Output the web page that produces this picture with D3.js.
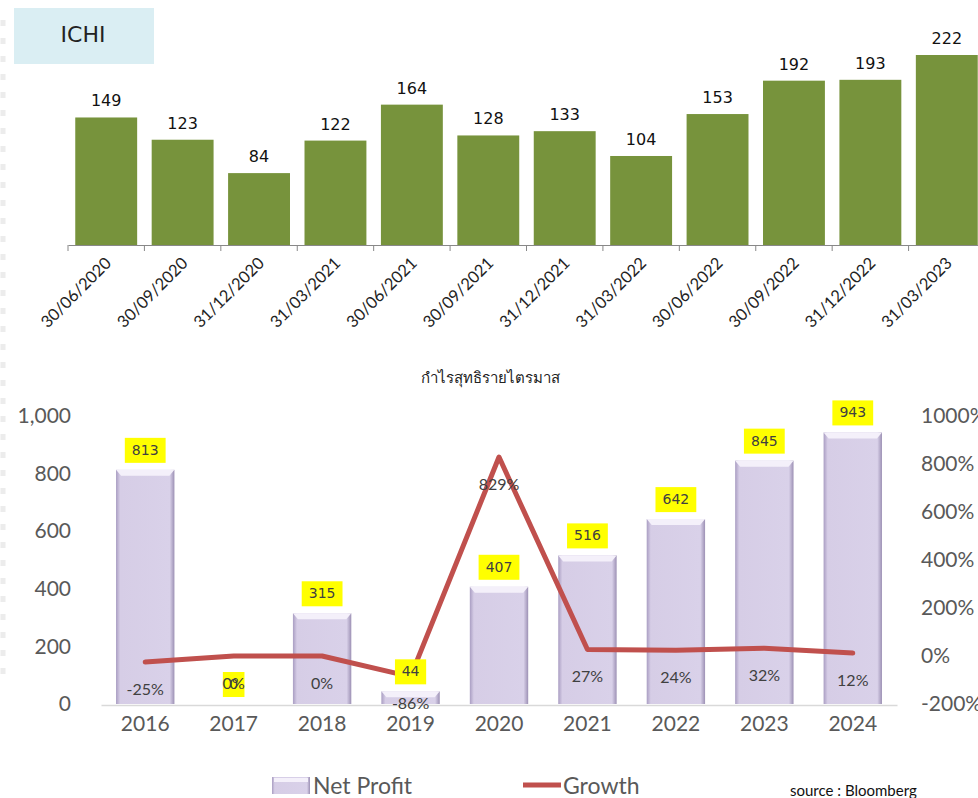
<!DOCTYPE html>
<html>
<head>
<meta charset="utf-8">
<script src="https://cdn.jsdelivr.net/npm/d3@7/dist/d3.min.js"></script>
<style>
  body { margin: 0; background: #fff; }
  svg { display: block; }
</style>
</head>
<body>
<svg id="chart" width="978" height="798"></svg>
<script>
// quarterly net profit (top chart)
const quarters = ["30/06/2020", "30/09/2020", "31/12/2020", "31/03/2021", "30/06/2021", "30/09/2021",
                  "31/12/2021", "31/03/2022", "30/06/2022", "30/09/2022", "31/12/2022", "31/03/2023"];
const quarterProfit = [149, 123, 84, 122, 164, 128, 133, 104, 153, 192, 193, 222];

// yearly net profit + growth (bottom chart)
const years = ["2016", "2017", "2018", "2019", "2020", "2021", "2022", "2023", "2024"];
const netProfit = [813, 0, 315, 44, 407, 516, 642, 845, 943];
const growth = [-25, 0, 0, -86, 829, 27, 24, 32, 12];
const leftTicks = [0, 200, 400, 600, 800, 1000];
const rightTicks = [-200, 0, 200, 400, 600, 800, 1000];

const svg = d3.select("#chart");
const defs = svg.append("defs");

// faint dotted edge like the original slide
svg.append("line").attr("x1", 3).attr("x2", 3).attr("y1", 20).attr("y2", 680)
  .attr("stroke", "#ececec").attr("stroke-width", 5).attr("stroke-dasharray", "6,12");

// ---------- top chart ----------
svg.append("rect").attr("x", 14).attr("y", 8).attr("width", 140).attr("height", 56).attr("fill", "#DAEEF3");
svg.append("text").attr("x", 83).attr("y", 42).attr("text-anchor", "middle")
  .style("font-family", "DejaVu Sans").style("font-size", "22px").attr("fill", "#222").text("ICHI");

const xTop = d3.scaleBand().domain(quarters).range([68, 985]).paddingInner(0.19).paddingOuter(0.095);
const yTop = d3.scaleLinear().domain([0, 222]).range([245, 55]);

svg.append("g").selectAll("rect").data(quarters).join("rect")
  .attr("x", d => xTop(d))
  .attr("y", (d, i) => yTop(quarterProfit[i]))
  .attr("width", xTop.bandwidth())
  .attr("height", (d, i) => yTop(0) - yTop(quarterProfit[i]))
  .attr("fill", "#77933C");

svg.append("g").selectAll("text").data(quarters).join("text")
  .attr("x", d => xTop(d) + xTop.bandwidth() / 2)
  .attr("y", (d, i) => yTop(quarterProfit[i]) - 11)
  .attr("text-anchor", "middle")
  .style("font-family", "DejaVu Sans").style("font-size", "16px").attr("fill", "#111")
  .text((d, i) => quarterProfit[i]);

const topAxis = svg.append("g").attr("transform", "translate(0,245)")
  .call(d3.axisBottom(xTop).tickSize(0).tickFormat(""));
topAxis.select(".domain").attr("stroke", "#888");
topAxis.selectAll(".tick").remove();
svg.append("g").selectAll("line").data(d3.range(quarters.length + 1)).join("line")
  .attr("x1", i => 68 + i * xTop.step()).attr("x2", i => 68 + i * xTop.step())
  .attr("y1", 245).attr("y2", 251).attr("stroke", "#888");

svg.append("g").selectAll("text").data(quarters).join("text")
  .attr("transform", d => `translate(${xTop(d) + xTop.bandwidth() / 2 - 2},256) rotate(-45)`)
  .attr("text-anchor", "end")
  .attr("dy", "0.7em")
  .style("font-family", "Lato").style("font-size", "16.5px").attr("fill", "#222")
  .text(d => d);

// ---------- bottom chart ----------
svg.append("text").attr("x", 490).attr("y", 383).attr("text-anchor", "middle")
  .style("font-family", "Noto Sans, sans-serif").style("font-size", "15px").attr("fill", "#222")
  .text("กำไรสุทธิรายไตรมาส");

const x = d3.scaleBand().domain(years).range([101, 897]).paddingInner(0.34).paddingOuter(0.17);
const yL = d3.scaleLinear().domain([0, 1000]).range([704, 416]);
const yR = d3.scaleLinear().domain([-200, 1000]).range([704, 416]);

const grad = defs.append("linearGradient").attr("id", "barGrad").attr("x1", 0).attr("x2", 1).attr("y1", 0).attr("y2", 0);
grad.append("stop").attr("offset", "0%").attr("stop-color", "#A99DC2");
grad.append("stop").attr("offset", "7%").attr("stop-color", "#D6CDE6");
grad.append("stop").attr("offset", "92%").attr("stop-color", "#D9D1E9");
grad.append("stop").attr("offset", "100%").attr("stop-color", "#9C90B4");

const bars = svg.append("g").selectAll("g").data(years).join("g");
bars.append("rect")
  .attr("x", d => x(d))
  .attr("y", (d, i) => yL(netProfit[i]))
  .attr("width", x.bandwidth())
  .attr("height", (d, i) => yL(0) - yL(netProfit[i]))
  .attr("fill", "url(#barGrad)");
// top bevel highlight
bars.append("path")
  .attr("d", (d, i) => {
    if (netProfit[i] <= 0) return null;
    const x0 = x(d), x1 = x(d) + x.bandwidth(), y0 = yL(netProfit[i]);
    return `M${x0},${y0} L${x1},${y0} L${x1 - 5},${y0 + 6} L${x0 + 5},${y0 + 6} Z`;
  })
  .attr("fill", "#F4F0FA");

// x axis
const xAxis = svg.append("g").attr("transform", "translate(0,705)").call(d3.axisBottom(x).tickSize(0));
xAxis.select(".domain").attr("stroke", "#d9d9d9").attr("stroke-width", 1.5);
xAxis.selectAll("text").attr("dy", "1.1em")
  .style("font-family", "Lato").style("font-size", "21px").attr("fill", "#595959");

const leftAxis = svg.append("g").attr("transform", "translate(74,0)")
  .call(d3.axisLeft(yL).tickValues(leftTicks).tickSize(0).tickFormat(d3.format(",")));
leftAxis.select(".domain").remove();
leftAxis.selectAll("text").style("font-family", "Lato").style("font-size", "21px").attr("fill", "#595959");

const rightAxis = svg.append("g").attr("transform", "translate(918,0)")
  .call(d3.axisRight(yR).tickValues(rightTicks).tickSize(0).tickFormat(d => d + "%"));
rightAxis.select(".domain").remove();
rightAxis.selectAll("text").style("font-family", "Lato").style("font-size", "21px").attr("fill", "#595959");

// growth line
const line = d3.line().x((d, i) => x(years[i]) + x.bandwidth() / 2).y(d => yR(d));
svg.append("path").datum(growth).attr("d", line)
  .attr("fill", "none").attr("stroke", "#C0504D").attr("stroke-width", 5)
  .attr("stroke-linejoin", "round").attr("stroke-linecap", "round");

// net profit labels in yellow boxes
const vl = svg.append("g").selectAll("g").data(netProfit).join("g")
  .attr("transform", (d, i) => `translate(${x(years[i]) + x.bandwidth() / 2},${yL(d) - 20})`);
vl.append("rect")
  .attr("x", d => -(String(d).length * 4.8 + 6))
  .attr("width", d => String(d).length * 9.6 + 12)
  .attr("y", -12).attr("height", 25).attr("fill", "#FFFF00");
vl.append("text").attr("text-anchor", "middle").attr("dy", "0.36em")
  .style("font-family", "DejaVu Sans").style("font-size", "14px").attr("fill", "#404040")
  .text(d => d);

// growth labels (drawn on top, as in the original)
svg.append("g").selectAll("text").data(growth).join("text")
  .attr("x", (d, i) => x(years[i]) + x.bandwidth() / 2)
  .attr("y", d => yR(d) + 27)
  .attr("dy", "0.35em")
  .attr("text-anchor", "middle")
  .style("font-family", "Lato").style("font-size", "16px").attr("fill", "#404040")
  .text(d => d + "%");

// legend
const lg = svg.append("g");
lg.append("rect").attr("x", 272).attr("y", 777).attr("width", 38).attr("height", 17).attr("fill", "url(#barGrad)");
lg.append("rect").attr("x", 274).attr("y", 778).attr("width", 34).attr("height", 4).attr("fill", "#F4F0FA");
lg.append("text").attr("x", 313).attr("y", 794)
  .style("font-family", "Lato").style("font-size", "23px").attr("fill", "#595959").text("Net Profit");
lg.append("line").attr("x1", 523).attr("x2", 561).attr("y1", 785).attr("y2", 785)
  .attr("stroke", "#C0504D").attr("stroke-width", 5);
lg.append("text").attr("x", 563).attr("y", 794)
  .style("font-family", "Lato").style("font-size", "23px").attr("fill", "#595959").text("Growth");
svg.append("text").attr("x", 790).attr("y", 796)
  .style("font-family", "Lato").style("font-size", "15px").attr("fill", "#111").text("source : Bloomberg");
</script>
</body>
</html>
